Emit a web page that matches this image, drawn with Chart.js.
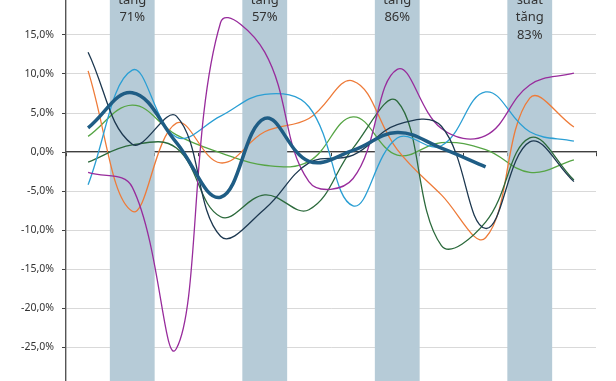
<!DOCTYPE html>
<html>
<head>
<meta charset="utf-8">
<script src="https://cdn.jsdelivr.net/npm/chart.js@4.4.1/dist/chart.umd.min.js"></script>
<style>
  html, body { margin: 0; padding: 0; background: #fff; }
  #frame { position: relative; width: 616px; height: 381px; overflow: hidden; }
  #chart { position: absolute; left: 0; top: -20px; }
</style>
</head>
<body>
<div id="frame"><canvas id="chart" width="616" height="430"></canvas></div>
<script>
// categories (x labels are not shown on the chart)
const categories = ["T1", "T2", "T3", "T4", "T5", "T6", "T7", "T8", "T9", "T10", "T11", "T12"];

// series values, in %
const trungBinh = [3.1, 7.6, 1.2, -5.8, 4.3, -1.2, 0.2, 2.5, 0.5, -1.9, null, null];
const xanhNhat  = [-4.2, 10.5, 1.9, 4.6, 7.4, 5.8, -6.9, 1.8, 0.8, 7.7, 2.6, 1.4];
const cam       = [10.4, -7.6, 3.7, -1.4, 2.6, 4.3, 9.1, 0.3, -5.5, -11.0, 6.9, 3.2];
const tim       = [-2.6, -4.5, -25.2, 16.6, 12.8, -3.8, -3.4, 10.6, 3.0, 2.1, 8.6, 10.1];
const xanhLa    = [2.0, 6.0, 2.2, -0.1, -1.7, -1.2, 4.5, -0.4, 1.2, 0.3, -2.6, -1.0];
const xanhReu   = [-1.3, 0.9, 0.5, -8.3, -5.5, -7.4, 0.5, 6.5, -12.0, -9.0, 1.8, -3.6];
const xanhDam   = [12.8, 1.0, 4.6, -10.8, -7.3, -1.4, -0.4, 3.5, 3.3, -9.8, 1.3, -3.8];

// highlighted periods and their notes
const highlightIndex = [1, 4, 7, 10];
const highlightText = [
    ["Tỷ suất", "tăng", "71%"],
    ["Tỷ suất", "tăng", "57%"],
    ["Tỷ suất", "tăng", "86%"],
    ["Tỷ", "suất", "tăng", "83%"]
];

// y axis
const yMin = -30;
const yMax = 20;
const yStep = 5;

function line(label, data, color, width, order) {
    return {
        type: "line",
        label: label,
        data: data,
        borderColor: color,
        borderWidth: width,
        pointRadius: 0,
        tension: 0.4,
        fill: false,
        order: order
    };
}

const bandLabels = {
    id: "bandLabels",
    afterDatasetsDraw(chart) {
        const ctx = chart.ctx;
        const x = chart.scales.x;
        ctx.save();
        ctx.font = "13px 'Noto Sans'";
        ctx.fillStyle = "#333333";
        ctx.textAlign = "center";
        ctx.textBaseline = "middle";
        highlightIndex.forEach(function (idx, k) {
            const cx = x.getPixelForValue(idx);
            highlightText[k].forEach(function (txt, j) {
                ctx.fillText(txt, cx, 2.5 + j * 17.5);
            });
        });
        ctx.restore();
    }
};

const canvas = document.getElementById("chart");

new Chart(canvas, {
    type: "line",
    data: {
        labels: categories,
        datasets: [
            line("Trung bình", trungBinh, "#1f5d85", 3.5, 0),
            line("Mã 1", xanhNhat, "#2b9fd4", 1.3, 3),
            line("Mã 2", cam, "#ee7b39", 1.3, 5),
            line("Mã 3", tim, "#982c9c", 1.3, 2),
            line("Mã 4", xanhLa, "#56a545", 1.3, 6),
            line("Mã 5", xanhReu, "#2c6a3c", 1.3, 4),
            line("Mã 6", xanhDam, "#1d3850", 1.3, 1),
            {
                type: "bar",
                label: "Giai đoạn",
                data: categories.map(function (c, i) {
                    return highlightIndex.indexOf(i) >= 0 ? [yMin, yMax] : null;
                }),
                backgroundColor: "#b6cbd7",
                borderWidth: 0,
                barPercentage: 1,
                categoryPercentage: 1,
                order: 10
            }
        ]
    },
    options: {
        responsive: false,
        animation: false,
        devicePixelRatio: 1,
        layout: { padding: { top: 16, right: 20, bottom: 24, left: 0 } },
        plugins: {
            legend: { display: false },
            tooltip: { enabled: false }
        },
        scales: {
            x: {
                type: "category",
                offset: true,
                position: { y: 0 },
                ticks: { display: false },
                grid: {
                    offset: true,
                    drawOnChartArea: false,
                    drawTicks: true,
                    tickLength: 4,
                    color: "#404040"
                },
                border: { display: true, color: "#404040", width: 1.2 }
            },
            y: {
                min: yMin,
                max: yMax,
                afterFit: function (scale) { scale.width = 66; },
                ticks: {
                    stepSize: yStep,
                    padding: 8,
                    color: "#333333",
                    font: { family: "'Noto Sans'", size: 10.5 },
                    callback: function (v) { return v.toFixed(1).replace(".", ",") + "%"; }
                },
                grid: {
                    color: "#d9d9d9",
                    tickColor: "#404040",
                    tickLength: 4,
                    lineWidth: 1
                },
                border: { display: true, color: "#555555", width: 1.4 }
            }
        }
    },
    plugins: [bandLabels]
});
</script>
</body>
</html>
